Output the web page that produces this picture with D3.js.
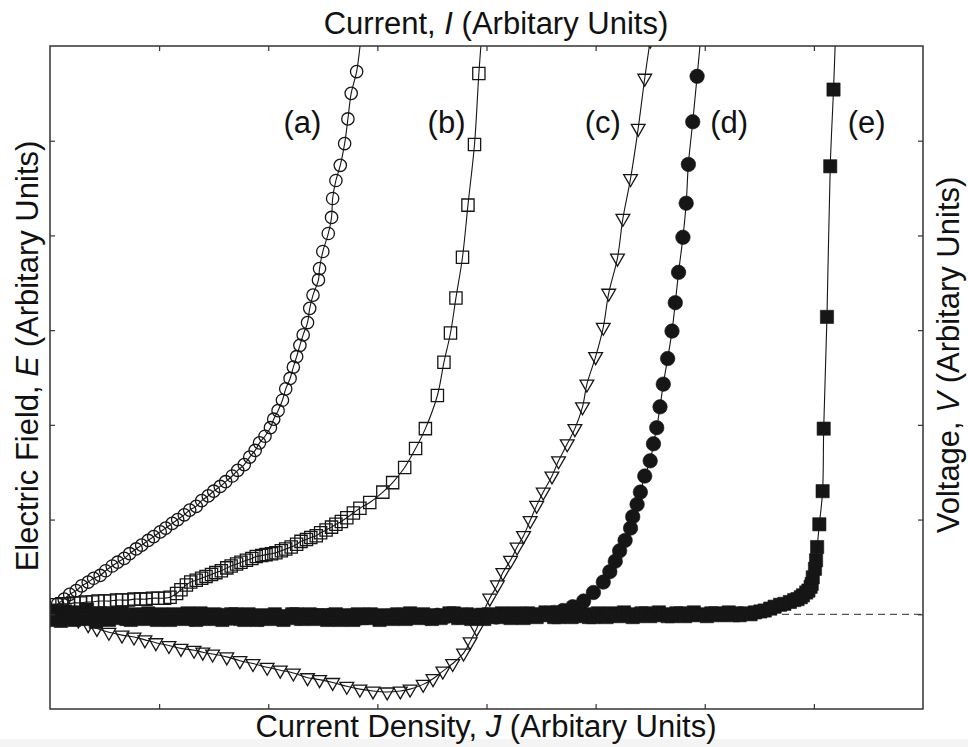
<!DOCTYPE html>
<html>
<head>
<meta charset="utf-8">
<script src="https://cdn.jsdelivr.net/npm/d3@7"></script>
<style>
  body { margin: 0; background: #fff; }
  svg { display: block; }
  text { font-family: "Liberation Sans", Arial, sans-serif; fill: #111; }
</style>
</head>
<body>
<svg id="chart" width="968" height="747"></svg>
<script>
// ---- data (arbitrary units) ----
const xTicks = [1, 2, 3, 4, 5, 6, 7];
const yTicks = [0, 1, 2, 3, 4, 5];

// (a) open circles
const seriesA = [
  [0.07,0.11],[0.13,0.16],[0.18,0.21],[0.24,0.25],[0.29,0.30],[0.35,0.34],[0.40,0.38],[0.46,0.41],
  [0.51,0.46],[0.57,0.51],[0.62,0.55],[0.68,0.59],[0.73,0.64],[0.79,0.69],[0.84,0.73],[0.90,0.78],
  [0.95,0.82],[1.01,0.87],[1.06,0.91],[1.12,0.96],[1.17,1.00],[1.23,1.05],[1.28,1.10],[1.34,1.14],
  [1.39,1.20],[1.45,1.25],[1.50,1.30],[1.56,1.35],[1.61,1.40],[1.67,1.46],[1.72,1.52],[1.78,1.58],
  [1.83,1.66],[1.88,1.73],[1.92,1.81],[1.97,1.88],[2.02,1.97],[2.05,2.06],[2.09,2.15],[2.13,2.26],
  [2.16,2.38],[2.20,2.49],[2.23,2.61],[2.26,2.72],[2.29,2.84],[2.32,2.95],[2.36,3.08],[2.38,3.23],
  [2.41,3.37],[2.46,3.53],[2.47,3.65],[2.50,3.83],[2.55,4.02],[2.58,4.19],[2.59,4.39],[2.62,4.58],
  [2.66,4.74],[2.70,4.97],[2.73,5.23],[2.76,5.50],[2.81,5.73],[2.85,6.10]
];

// (b) open squares
const seriesB = [
  [0.06,0.10],[0.11,0.11],[0.17,0.11],[0.22,0.12],[0.28,0.12],[0.33,0.13],[0.39,0.13],[0.44,0.14],
  [0.50,0.14],[0.55,0.14],[0.61,0.15],[0.66,0.15],[0.72,0.15],[0.77,0.16],[0.83,0.16],[0.88,0.16],
  [0.94,0.17],[0.99,0.17],[1.05,0.17],[1.10,0.18],[1.16,0.22],[1.20,0.26],[1.25,0.31],[1.29,0.34],
  [1.34,0.36],[1.39,0.38],[1.43,0.40],[1.48,0.42],[1.52,0.44],[1.57,0.46],[1.62,0.49],[1.66,0.51],
  [1.71,0.53],[1.75,0.55],[1.80,0.57],[1.85,0.59],[1.89,0.61],[1.94,0.62],[1.98,0.63],[2.03,0.64],
  [2.07,0.65],[2.12,0.67],[2.16,0.69],[2.21,0.71],[2.26,0.74],[2.30,0.77],[2.35,0.79],[2.39,0.81],
  [2.44,0.83],[2.48,0.86],[2.53,0.89],[2.58,0.92],[2.62,0.95],[2.67,0.98],[2.72,1.02],[2.78,1.07],
  [2.84,1.12],[2.93,1.18],[3.05,1.29],[3.14,1.39],[3.25,1.55],[3.35,1.75],[3.44,1.96],[3.55,2.31],
  [3.61,2.66],[3.67,2.97],[3.72,3.34],[3.78,3.77],[3.83,4.32],[3.89,4.96],[3.93,5.71],[3.96,6.17]
];

// (c) open down-triangles
const seriesC = [
  [0.04,0.02],[0.15,-0.02],[0.26,-0.06],[0.35,-0.11],[0.43,-0.15],[0.54,-0.19],[0.66,-0.22],[0.77,-0.24],
  [0.87,-0.27],[0.97,-0.30],[1.09,-0.33],[1.20,-0.36],[1.32,-0.38],[1.40,-0.40],[1.49,-0.42],[1.62,-0.45],
  [1.74,-0.49],[1.86,-0.52],[1.99,-0.56],[2.11,-0.59],[2.23,-0.62],[2.36,-0.67],[2.47,-0.69],[2.59,-0.72],
  [2.72,-0.76],[2.84,-0.79],[2.96,-0.81],[3.09,-0.82],[3.21,-0.81],[3.30,-0.79],[3.42,-0.74],[3.51,-0.68],
  [3.60,-0.60],[3.69,-0.52],[3.79,-0.41],[3.85,-0.29],[3.91,-0.15],[3.97,0.02],[4.03,0.17],[4.10,0.31],
  [4.15,0.44],[4.22,0.57],[4.28,0.71],[4.34,0.83],[4.40,0.99],[4.46,1.15],[4.52,1.29],[4.60,1.46],
  [4.66,1.62],[4.74,1.80],[4.81,1.96],[4.88,2.19],[4.92,2.43],[5.00,2.72],[5.07,3.03],[5.12,3.39],
  [5.20,3.76],[5.25,4.18],[5.32,4.60],[5.39,5.13],[5.45,5.66],[5.50,6.06]
];

// (d) filled circles
const seriesD = [
  [0.04,0.02],[0.13,-0.03],[0.22,0.01],[0.31,-0.04],[0.40,-0.01],[0.49,-0.03],[0.58,0.00],[0.67,-0.04],
  [0.76,-0.02],[0.85,-0.03],[0.94,-0.01],[1.03,-0.04],[1.12,-0.02],[1.21,-0.03],[1.30,-0.05],[1.39,-0.02],
  [1.48,-0.03],[1.57,-0.01],[1.66,-0.04],[1.75,-0.02],[1.84,-0.03],[1.93,-0.05],[2.02,-0.02],[2.11,-0.03],
  [2.20,-0.01],[2.29,-0.04],[2.38,-0.02],[2.47,-0.03],[2.56,-0.01],[2.65,-0.03],[2.74,-0.02],[2.83,-0.04],
  [2.92,-0.01],[3.01,-0.03],[3.10,-0.02],[3.19,-0.01],[3.28,-0.03],[3.37,-0.02],[3.46,-0.04],[3.55,-0.01],
  [3.64,-0.02],[3.73,-0.03],[3.82,-0.01],[3.91,-0.02],[4.00,-0.01],[4.09,-0.03],[4.18,-0.01],[4.27,-0.02],
  [4.36,0.00],[4.45,-0.01],[4.54,0.01],[4.62,0.02],[4.70,0.04],[4.79,0.08],[4.89,0.14],[4.98,0.23],
  [5.07,0.34],[5.13,0.45],[5.18,0.56],[5.22,0.67],[5.27,0.78],[5.32,0.91],[5.34,1.03],[5.38,1.16],
  [5.41,1.29],[5.45,1.46],[5.50,1.62],[5.53,1.80],[5.56,1.97],[5.59,2.19],[5.62,2.43],[5.66,2.70],
  [5.70,2.99],[5.73,3.29],[5.76,3.61],[5.80,3.98],[5.83,4.34],[5.85,4.75],[5.89,5.20],[5.93,5.68],
  [5.97,6.17]
];

// (e) filled squares
const seriesE = [
  [0.02,0.04],[0.06,-0.06],[0.10,-0.07],[0.14,0.03],[0.18,0.02],[0.22,-0.06],[0.26,-0.05],[0.30,0.02],
  [0.34,0.05],[0.38,-0.05],[0.42,-0.08],[0.46,0.01],[0.50,0.00],[0.54,-0.06],[0.58,-0.04],[0.62,0.01],
  [0.66,0.02],[0.70,-0.05],[0.74,-0.06],[0.78,0.00],[0.82,-0.01],[0.86,-0.05],[0.90,0.01],[0.94,-0.03],
  [0.98,-0.06],[1.02,0.00],[1.06,-0.02],[1.10,-0.06],[1.14,0.00],[1.18,-0.04],[1.22,-0.05],[1.26,0.01],
  [1.30,-0.03],[1.34,-0.06],[1.38,0.01],[1.42,-0.04],[1.46,-0.05],[1.50,0.00],[1.54,-0.02],[1.58,-0.06],
  [1.62,-0.04],[1.66,0.00],[1.70,0.00],[1.74,-0.05],[1.78,-0.06],[1.82,0.00],[1.86,-0.03],[1.90,-0.06],
  [1.94,-0.01],[1.98,-0.04],[2.02,-0.05],[2.06,0.00],[2.10,-0.02],[2.14,-0.06],[2.18,-0.04],[2.22,0.00],
  [2.26,0.00],[2.30,-0.05],[2.34,-0.03],[2.38,0.00],[2.42,-0.05],[2.46,-0.01],[2.50,-0.01],[2.54,-0.06],
  [2.58,-0.03],[2.62,0.00],[2.66,-0.06],[2.70,-0.01],[2.74,-0.02],[2.78,-0.06],[2.82,0.00],[2.86,-0.04],
  [2.90,-0.04],[2.94,0.00],[2.98,-0.03],[3.02,-0.06],[3.06,-0.01],[3.10,-0.03],[3.14,-0.05],[3.18,0.00],
  [3.22,-0.02],[3.26,-0.05],[3.30,0.01],[3.34,-0.03],[3.38,-0.04],[3.42,0.00],[3.46,-0.03],[3.50,-0.05],
  [3.54,-0.01],[3.58,-0.04],[3.62,-0.02],[3.66,0.01],[3.70,0.01],[3.74,-0.04],[3.78,-0.03],[3.82,0.00],
  [3.86,-0.05],[3.90,-0.01],[3.94,-0.02],[3.98,-0.05],[4.02,0.00],[4.06,-0.02],[4.10,-0.03],[4.14,0.01],
  [4.18,-0.01],[4.22,-0.04],[4.26,0.01],[4.30,-0.02],[4.34,-0.04],[4.38,0.01],[4.42,-0.02],[4.46,-0.03],
  [4.50,0.00],[4.54,0.02],[4.58,-0.01],[4.62,-0.03],[4.66,-0.03],[4.70,0.00],[4.74,0.01],[4.78,-0.03],
  [4.82,-0.02],[4.86,0.01],[4.90,0.00],[4.94,-0.03],[4.98,-0.03],[5.02,0.01],[5.06,-0.01],[5.10,-0.03],
  [5.14,0.01],[5.18,-0.01],[5.22,-0.02],[5.26,0.02],[5.30,0.00],[5.34,-0.03],[5.38,-0.02],[5.42,0.01],
  [5.46,0.01],[5.50,-0.02],[5.54,-0.01],[5.58,0.02],[5.62,0.00],[5.66,-0.02],[5.70,-0.02],[5.74,0.01],
  [5.78,0.01],[5.82,-0.02],[5.86,-0.01],[5.90,0.02],[5.94,0.00],[5.98,-0.01],[6.02,-0.02],[6.06,0.01],
  [6.10,0.01],[6.14,-0.01],[6.18,0.00],[6.22,0.02],[6.26,-0.01],[6.29,0.01],[6.32,-0.01],[6.37,0.01],
  [6.42,0.00],[6.46,0.02],[6.51,0.03],[6.55,0.04],[6.60,0.06],[6.64,0.08],[6.69,0.10],[6.73,0.11],
  [6.78,0.13],[6.82,0.15],[6.85,0.16],[6.88,0.18],[6.90,0.20],[6.93,0.23],[6.95,0.25],[6.97,0.29],
  [6.98,0.32],[6.99,0.39],[7.01,0.48],[7.02,0.57],[7.03,0.71],[7.05,0.95],[7.08,1.30],[7.09,1.96],
  [7.12,3.14],[7.15,4.73],[7.18,5.54],[7.20,6.17]
];

const curveNames = ["(a)", "(b)", "(c)", "(d)", "(e)"];
const curveNameX = [2.14, 3.46, 4.90, 6.05, 7.31];
const curveNameY = [5.08, 5.08, 5.08, 5.08, 5.08];

// ---- layout ----
const W = 968, H = 747;
const M = { left: 50, right: 923, top: 46, bottom: 709 };
const svg = d3.select("#chart");

svg.append("rect").attr("x", 0).attr("y", 0).attr("width", W).attr("height", H).attr("fill", "#fff");
svg.append("rect").attr("x", 0).attr("y", 739).attr("width", W).attr("height", H - 739).attr("fill", "#f4f4f4");

const x = d3.scaleLinear().domain([0, 8]).range([M.left, M.right]);
const y = d3.scaleLinear().domain([-1, 6]).range([M.bottom, M.top]);

svg.append("defs").append("clipPath").attr("id", "plotClip")
  .append("rect").attr("x", M.left).attr("y", M.top)
  .attr("width", M.right - M.left).attr("height", M.bottom - M.top);

// zero reference
svg.append("line")
  .attr("x1", x(0)).attr("x2", x(8)).attr("y1", y(0)).attr("y2", y(0))
  .attr("stroke", "#555").attr("stroke-width", 1.3).attr("stroke-dasharray", "7,5");

const plot = svg.append("g").attr("clip-path", "url(#plotClip)");
const line = d3.line().x(d => x(d[0])).y(d => y(d[1])).curve(d3.curveCatmullRom.alpha(0.5));

const INK = "#161616";
const tri = d3.symbol().type(d3.symbolTriangle).size(82)();

function drawSeries(data, opts) {
  const g = plot.append("g");
  const marks = g.selectAll("path.m").data(data).join("path").attr("class", "m");
  if (opts.shape === "circle") {
    marks.attr("d", d3.symbol().type(d3.symbolCircle).size(opts.size)())
      .attr("transform", d => `translate(${x(d[0])},${y(d[1])})`);
  } else if (opts.shape === "square") {
    marks.attr("d", d3.symbol().type(d3.symbolSquare).size(opts.size)())
      .attr("transform", d => `translate(${x(d[0])},${y(d[1])})`);
  } else {
    marks.attr("d", tri)
      .attr("transform", d => `translate(${x(d[0])},${y(d[1])}) rotate(180)`);
  }
  if (opts.filled) {
    marks.attr("fill", INK).attr("stroke", INK).attr("stroke-width", 0.6);
  } else {
    marks.attr("fill", "none").attr("stroke", INK).attr("stroke-width", 1.3);
  }
  g.append("path").datum(data).attr("d", line)
    .attr("fill", "none").attr("stroke", INK).attr("stroke-width", 1.1);
}

drawSeries(seriesE, { shape: "square", size: 175, filled: true });
drawSeries(seriesD, { shape: "circle", size: 165, filled: true });
drawSeries(seriesC, { shape: "triangle", filled: false });
drawSeries(seriesB, { shape: "square", size: 150, filled: false });
drawSeries(seriesA, { shape: "circle", size: 120, filled: false });

// frame and inward ticks on all four sides
const axisStyle = g => {
  g.select(".domain").remove();
  g.selectAll(".tick line").attr("stroke", "#333").attr("stroke-width", 1.2);
  g.selectAll(".tick text").remove();
};
svg.append("g").attr("transform", `translate(0,${M.bottom})`)
  .call(d3.axisBottom(x).tickValues(xTicks).tickSize(-5).tickFormat("")).call(axisStyle);
svg.append("g").attr("transform", `translate(0,${M.top})`)
  .call(d3.axisTop(x).tickValues(xTicks).tickSize(-5).tickFormat("")).call(axisStyle);
svg.append("g").attr("transform", `translate(${M.left},0)`)
  .call(d3.axisLeft(y).tickValues(yTicks).tickSize(-5).tickFormat("")).call(axisStyle);
svg.append("g").attr("transform", `translate(${M.right},0)`)
  .call(d3.axisRight(y).tickValues(yTicks).tickSize(-5).tickFormat("")).call(axisStyle);

svg.append("rect")
  .attr("x", M.left).attr("y", M.top)
  .attr("width", M.right - M.left).attr("height", M.bottom - M.top)
  .attr("fill", "none").attr("stroke", "#333").attr("stroke-width", 1.5);

// curve names
svg.append("g").selectAll("text").data(curveNames).join("text")
  .attr("x", (d, i) => x(curveNameX[i]))
  .attr("y", (d, i) => y(curveNameY[i]))
  .attr("font-size", 31)
  .text(d => d);

// axis titles
function title(parts, attrs) {
  const t = svg.append("text").attr("font-size", 31).attr("text-anchor", "middle");
  Object.entries(attrs).forEach(([k, v]) => t.attr(k, v));
  parts.forEach(p => {
    const s = t.append("tspan").text(p.t);
    if (p.i) s.attr("font-style", "italic");
  });
}
title([{ t: "Current Density, " }, { t: "J", i: true }, { t: " (Arbitary Units)" }],
  { x: 486, y: 737 });
title([{ t: "Current, " }, { t: "I", i: true }, { t: " (Arbitary Units)" }],
  { x: 496, y: 34 });
title([{ t: "Electric Field, " }, { t: "E", i: true }, { t: " (Arbitary Units)" }],
  { transform: "translate(38,356) rotate(-90)" });
title([{ t: "Voltage, " }, { t: "V", i: true }, { t: " (Arbitary Units)" }],
  { transform: "translate(959,355) rotate(-90)" });
</script>
</body>
</html>
